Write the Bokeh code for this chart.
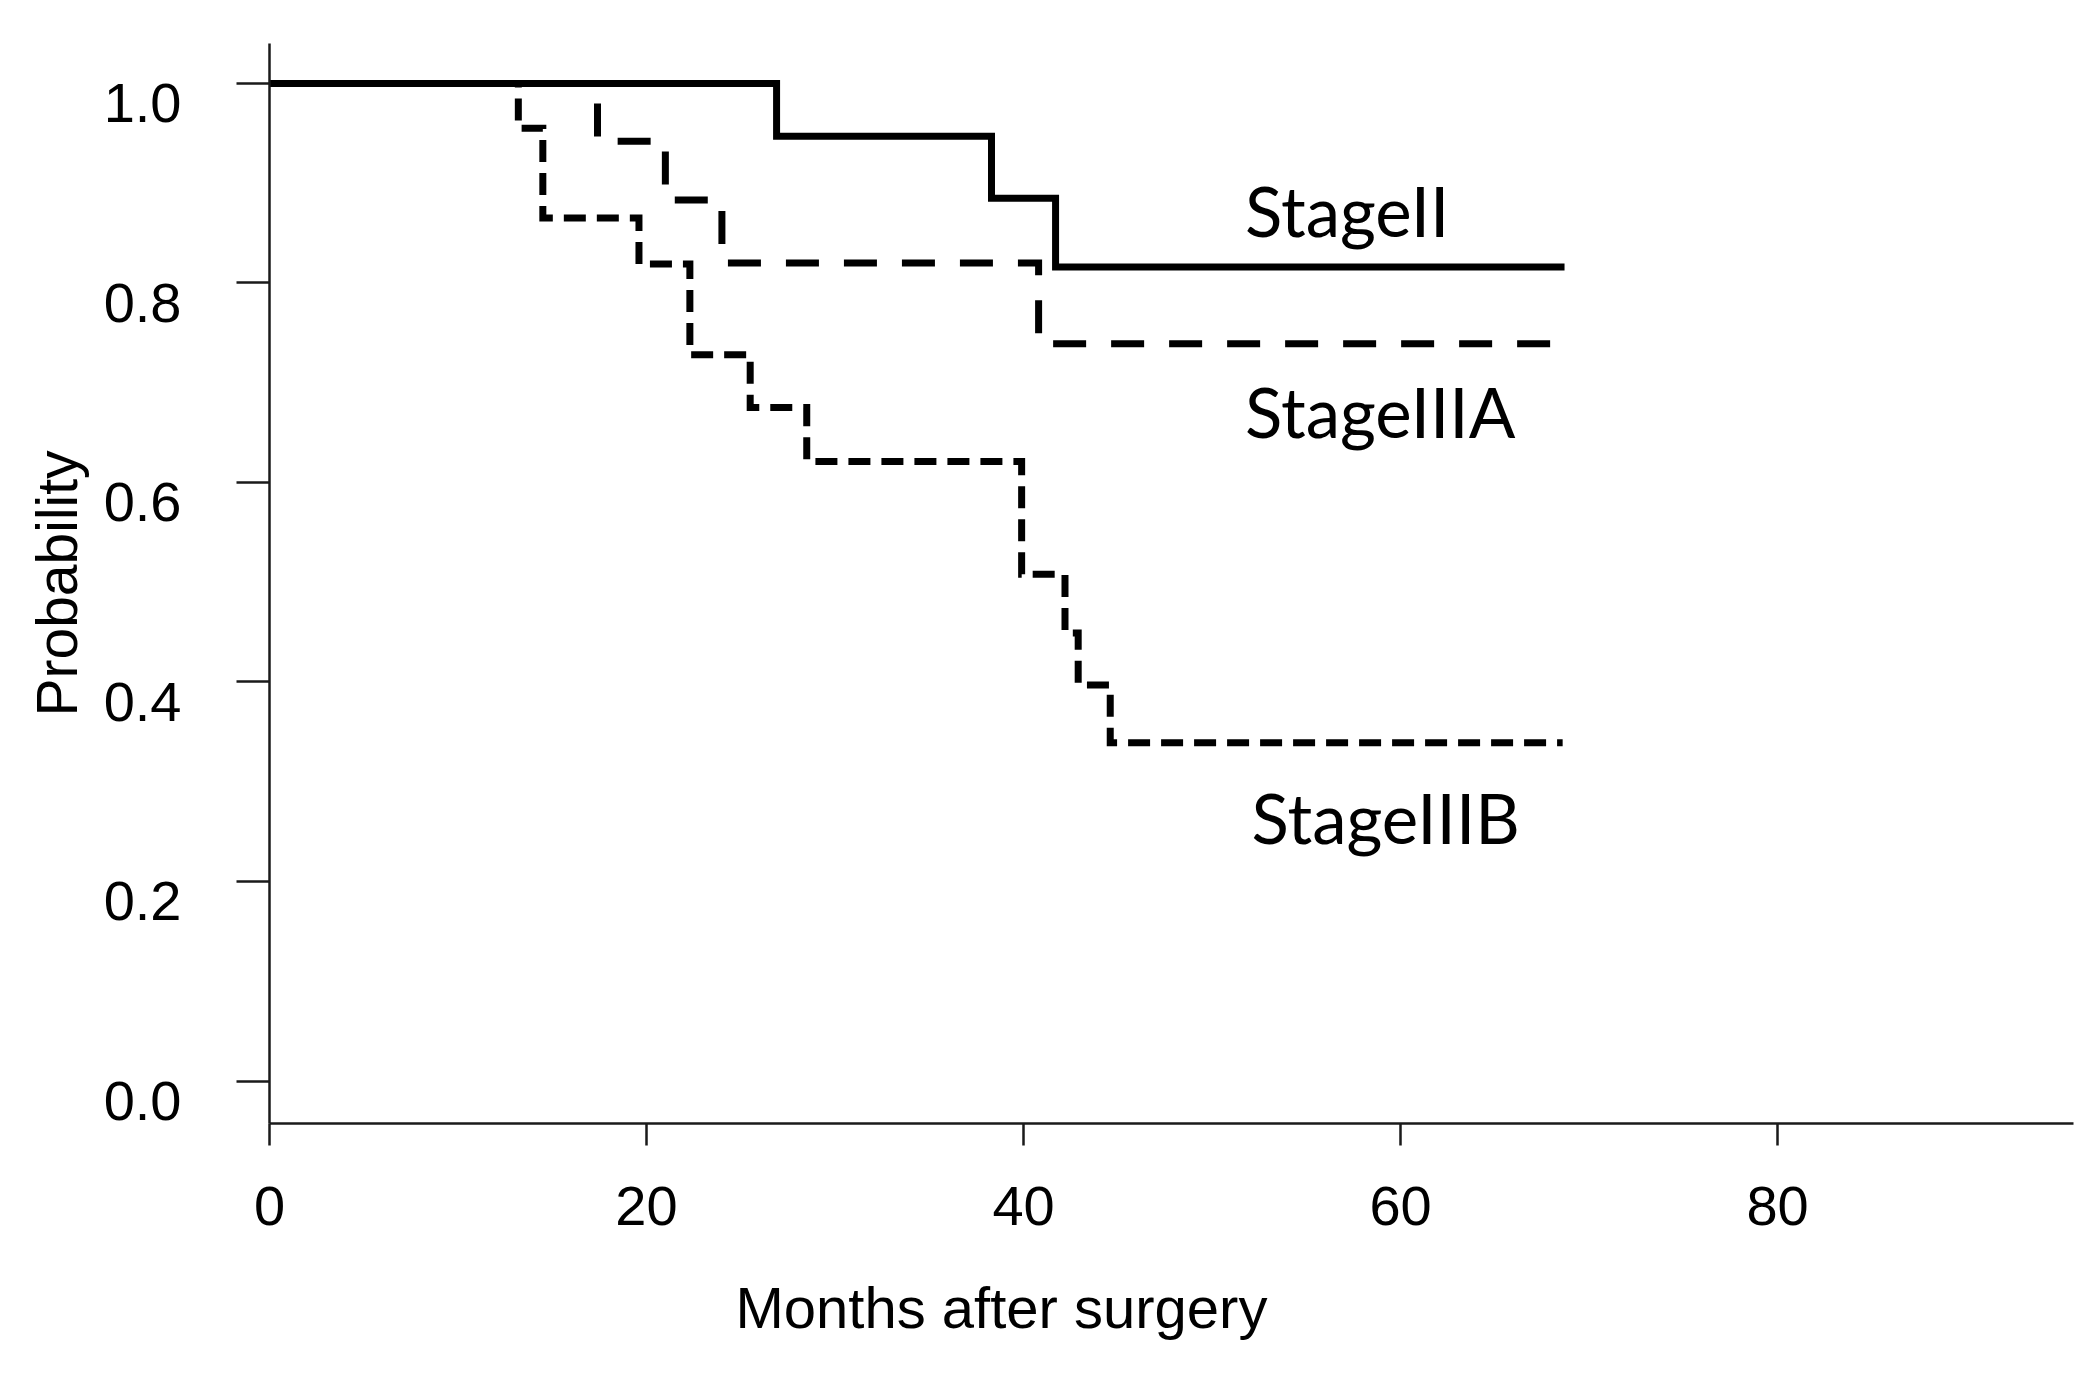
from bokeh.plotting import figure
from bokeh.models import Range1d, FixedTicker, LinearAxis, CustomJSTickFormatter, Title
from bokeh.core.properties import value
from bokeh.embed import file_html
from bokeh.resources import INLINE

# ---- data ----
stage2_months = [0, 26.9, 38.3, 41.7, 68.7]
stage2_prob = [1.0, 0.947, 0.885, 0.816, 0.816]

stage3a_months = [0, 17.4, 21.0, 24.0, 40.8, 68.0]
stage3a_prob = [1.0, 0.942, 0.883, 0.820, 0.739, 0.739]

stage3b_months = [0, 13.2, 14.5, 19.6, 22.3, 25.5, 28.5, 39.9, 42.2, 42.9, 44.6, 68.6]
stage3b_prob = [1.0, 0.955, 0.865, 0.819, 0.728, 0.675, 0.621, 0.508, 0.449, 0.397, 0.339, 0.339]

series_names = ["StageII", "StageIIIA", "StageIIIB"]
label_x = [51.75, 51.75, 52.1]
label_y = [0.873, 0.671, 0.264]

x_ticks = [0, 20, 40, 60, 80]
y_ticks = [0.0, 0.2, 0.4, 0.6, 0.8, 1.0]

FONT = "Liberation Sans"
AXIS_COLOR = "#1a1a1a"
Y_LABEL_SHIFT = 0.02  # y tick labels sit slightly below their ticks in the reference

p = figure(width=2080, height=1384,
           x_range=Range1d(0, 95.7), y_range=Range1d(-0.0426, 1.04),
           output_backend="svg", toolbar_location=None,
           min_border_left=269, min_border_right=7,
           min_border_top=43, min_border_bottom=259)

p.outline_line_color = None
p.xgrid.visible = False
p.ygrid.visible = False
p.background_fill_color = "white"
p.border_fill_color = "white"

# x axis
xa = p.xaxis[0]
xa.ticker = FixedTicker(ticks=x_ticks)
xa.axis_line_width = 2.5
xa.axis_line_color = AXIS_COLOR
xa.major_tick_line_width = 2.5
xa.major_tick_line_color = AXIS_COLOR
xa.major_tick_out = 22
xa.major_tick_in = 0
xa.minor_tick_line_color = None
xa.major_label_text_font = FONT
xa.major_label_text_font_size = "56px"
xa.major_label_text_color = "black"
xa.major_label_standoff = 41

# x axis title (left of centre in the reference)
p.add_layout(Title(text="Months after surgery", align="left", offset=466,
                   text_font=FONT, text_font_size="58px", text_font_style="normal",
                   text_color="black", standoff=90), "below")

# y axis (ticks and line)
ya = p.yaxis[0]
ya.ticker = FixedTicker(ticks=y_ticks)
ya.formatter = CustomJSTickFormatter(code="return '';")
ya.axis_line_width = 2.5
ya.axis_line_color = AXIS_COLOR
ya.major_tick_line_width = 2.5
ya.major_tick_line_color = AXIS_COLOR
ya.major_tick_out = 33
ya.major_tick_in = 0
ya.minor_tick_line_color = None
ya.major_label_standoff = 0

# y axis labels (slightly below their ticks, as in the reference)
ylab = LinearAxis(
    ticker=FixedTicker(ticks=[t - Y_LABEL_SHIFT for t in y_ticks]),
    formatter=CustomJSTickFormatter(code="return (tick + %f).toFixed(1);" % Y_LABEL_SHIFT),
    axis_line_color=None, major_tick_line_color=None, minor_tick_line_color=None,
    major_tick_out=0, major_tick_in=0,
    major_label_text_font=FONT, major_label_text_font_size="56px",
    major_label_text_color="black", major_label_standoff=55,
    axis_label="Probability", axis_label_text_font=FONT,
    axis_label_text_font_size="57px", axis_label_text_font_style="normal",
    axis_label_text_color="black", axis_label_standoff=12)
p.add_layout(ylab, "left")

# curves
p.step(stage3b_months, stage3b_prob, mode="after", line_width=7, line_color="black",
       line_dash="22 11", line_join="miter")
p.step(stage3a_months, stage3a_prob, mode="after", line_width=7, line_color="black",
       line_dash="33 25", line_join="miter")
p.step(stage2_months, stage2_prob, mode="after", line_width=7, line_color="black",
       line_join="miter")

p.text(x=label_x, y=label_y, text=series_names, text_font=value("Lato"),
       text_font_size="69px", text_baseline="alphabetic", text_align="left",
       text_color="black")

open("out.html", "w").write(file_html(p, INLINE))
